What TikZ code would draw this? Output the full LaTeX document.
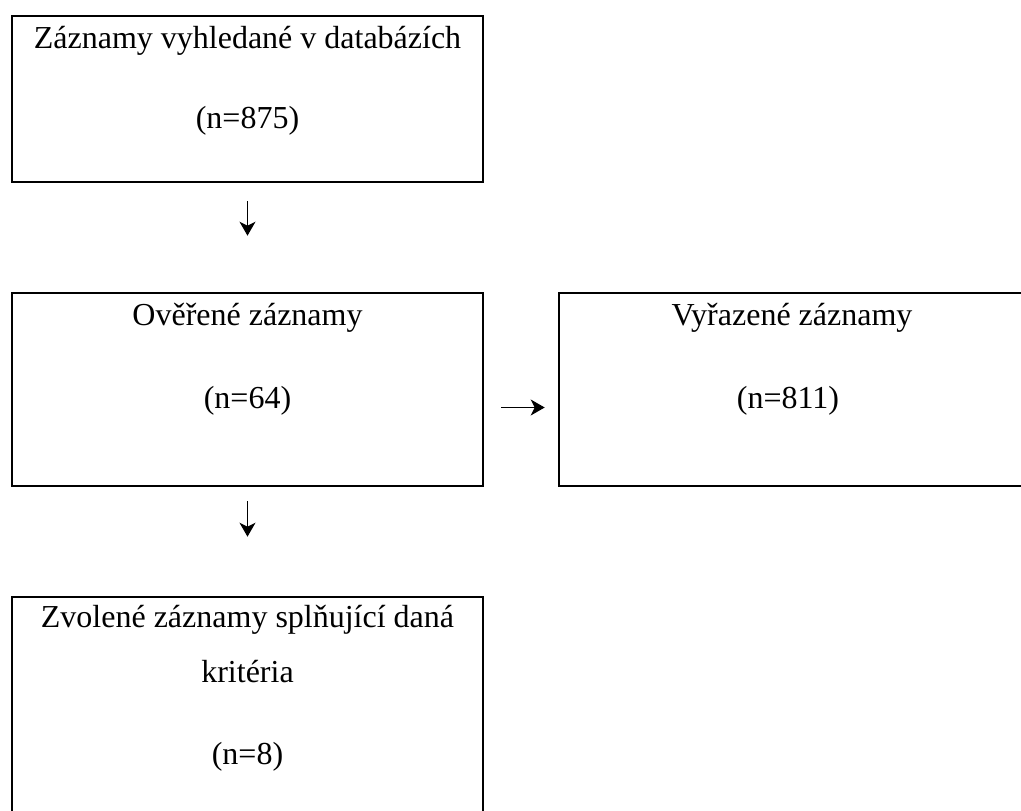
\documentclass[tikz,border=0pt]{standalone}
\usepackage{fontspec}
\setmainfont{Liberation Serif}
\usetikzlibrary{arrows.meta}
\begin{document}
\begin{tikzpicture}[x=1pt,y=-1pt,
  box/.style={draw, line width=2.6pt, rectangle, inner sep=0pt},
  txt/.style={anchor=base, font=\fontsize{32}{38}\selectfont, inner sep=0pt},
  arr/.style={line width=1.6pt, -{Stealth[length=14pt,width=16pt,inset=4pt]}}]
\useasboundingbox (0,0) rectangle (1021,811);
% boxes
\node[box, minimum width=471pt, minimum height=166pt] (b1) at (247.5,99) {};
\node[box, minimum width=471pt, minimum height=193pt] (b2) at (247.5,389.5) {};
\node[box, minimum width=467pt, minimum height=193pt] (b3) at (792.5,389.5) {};
\node[box, minimum width=471pt, minimum height=219pt] (b4) at (247.5,706.5) {};
% texts
\node[txt] (t1a) at (247.5,48) {Záznamy vyhledané v databázích};
\node[txt] (t1b) at (247.5,128) {(n=875)};
\node[txt] (t2a) at (247.5,325) {Ověřené záznamy};
\node[txt] (t2b) at (247.5,408) {(n=64)};
\node[txt] (t3a) at (792,325) {Vyřazené záznamy};
\node[txt] (t3b) at (788,408) {(n=811)};
\node[txt] (t4a) at (247.5,627) {Zvolené záznamy splňující daná};
\node[txt] (t4b) at (247.5,682) {kritéria};
\node[txt] (t4c) at (247.5,764) {(n=8)};
% arrows
\draw[arr] ([yshift=-18pt]b1.south) -- ([yshift=56pt]b2.north);
\draw[arr] ([yshift=-14pt]b2.south) -- ([yshift=59pt]b4.north);
\draw[arr] ([xshift=17pt,yshift=-18pt]b2.east) -- ([xshift=-13pt,yshift=-18pt]b3.west);
\end{tikzpicture}
\end{document}
